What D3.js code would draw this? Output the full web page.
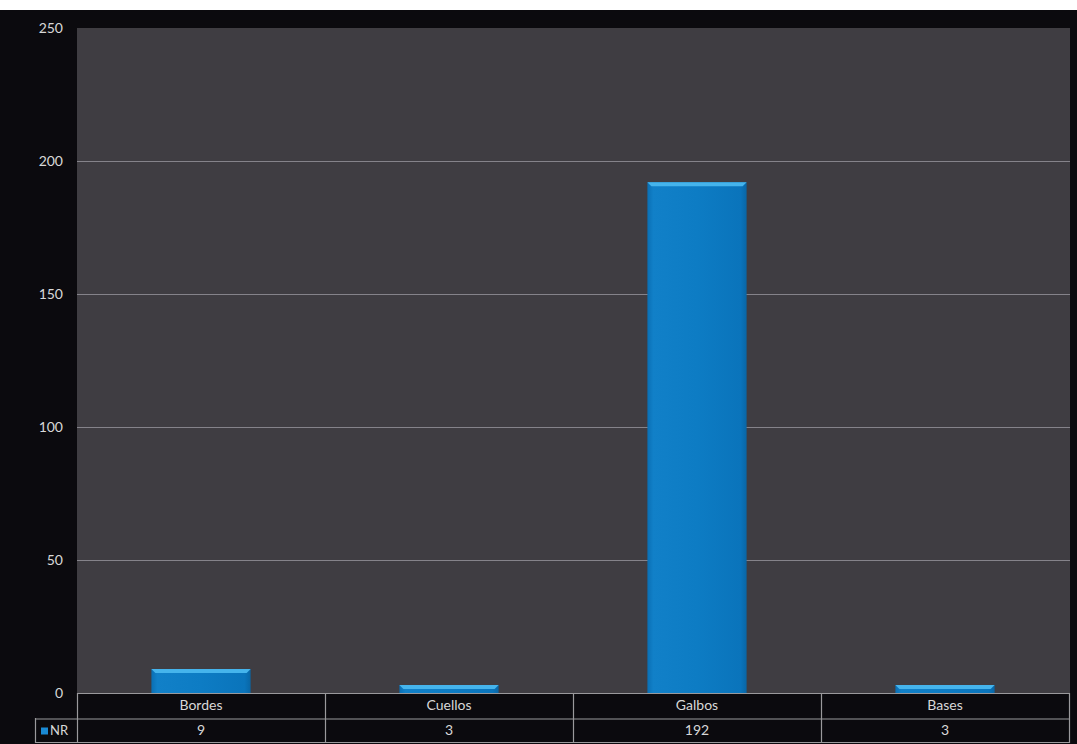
<!DOCTYPE html>
<html><head><meta charset="utf-8">
<script src="https://cdn.jsdelivr.net/npm/d3@7"></script>
<style>html,body{margin:0;padding:0;background:#fff;}svg{display:block;}</style>
</head><body>
<script>
const categories = ["Bordes", "Cuellos", "Galbos", "Bases"];
const seriesName = "NR";
const values = [9, 3, 192, 3];
const yTicks = [0, 50, 100, 150, 200, 250];

const W = 1077, H = 744;
const FONT = "Lato, 'Open Sans', sans-serif";
const svg = d3.select("body").append("svg").attr("width", W).attr("height", H);
const defs = svg.append("defs");
const g1 = defs.append("linearGradient").attr("id", "barGrad").attr("x1", 0).attr("x2", 1).attr("y1", 0).attr("y2", 0);
g1.append("stop").attr("offset", "0%").attr("stop-color", "#0a6fb4");
g1.append("stop").attr("offset", "6%").attr("stop-color", "#1180c8");
g1.append("stop").attr("offset", "50%").attr("stop-color", "#0d7cc4");
g1.append("stop").attr("offset", "94%").attr("stop-color", "#0a74bb");
g1.append("stop").attr("offset", "100%").attr("stop-color", "#0966a5");

svg.append("rect").attr("x", 0).attr("y", 10).attr("width", W).attr("height", H - 10).attr("fill", "#0b0a0e");

const plot = {left: 77, right: 1070, top: 28, bottom: 693};
svg.append("rect").attr("x", plot.left).attr("y", plot.top)
  .attr("width", plot.right - plot.left).attr("height", plot.bottom - plot.top)
  .attr("fill", "#3f3d42");

const x = d3.scaleBand().domain(categories).range([plot.left, 1069]).paddingInner(0.6).paddingOuter(0.3);
const xCell = d3.scaleBand().domain(categories).range([plot.left, 1069]).padding(0);
const y = d3.scaleLinear().domain([0, 250]).range([plot.bottom, plot.top]);

// gridlines
svg.append("g").selectAll("line").data(yTicks.filter(t => t > 0 && t < 250)).join("line")
  .attr("x1", plot.left).attr("x2", plot.right)
  .attr("y1", d => Math.round(y(d)) + 0.5).attr("y2", d => Math.round(y(d)) + 0.5)
  .attr("stroke", "#85838a").attr("stroke-width", 1);

// y axis labels
const yAxis = d3.axisLeft(y).tickValues(yTicks).tickSize(0).tickPadding(0);
const ya = svg.append("g").attr("transform", `translate(63,0)`).call(yAxis);
ya.select(".domain").remove();
ya.selectAll("text").attr("fill", "#d8d8d8").attr("font-family", FONT).attr("font-size", 14);

// bars
const bars = svg.append("g").selectAll("g").data(values).join("g");
bars.append("rect")
  .attr("x", (d, i) => x(categories[i]))
  .attr("y", d => y(d))
  .attr("width", x.bandwidth())
  .attr("height", d => y(0) - y(d))
  .attr("fill", "url(#barGrad)");
bars.append("path")
  .attr("d", (d, i) => {
    const x0 = x(categories[i]), x1 = x0 + x.bandwidth(), t = y(d);
    const h = Math.min(4, y(0) - y(d));
    return `M${x0},${t}L${x1},${t}L${x1 - h},${t + h}L${x0 + h},${t + h}Z`;
  })
  .attr("fill", "#45b4ec");

// data table
const tableTop = 693, rowH = 25;
const lineColor = "#9a999c";
const tbl = svg.append("g");
tbl.selectAll("text.cat").data(categories).join("text").attr("class", "cat")
  .attr("x", d => xCell(d) + xCell.bandwidth() / 2).attr("y", tableTop + rowH / 2 + 1)
  .attr("text-anchor", "middle").attr("dominant-baseline", "middle")
  .attr("fill", "#d8d8d8").attr("font-family", FONT).attr("font-size", 14)
  .text(d => d);
tbl.selectAll("text.val").data(values).join("text").attr("class", "val")
  .attr("x", (d, i) => xCell(categories[i]) + xCell.bandwidth() / 2).attr("y", tableTop + rowH + rowH / 2 + 1)
  .attr("text-anchor", "middle").attr("dominant-baseline", "middle")
  .attr("fill", "#d8d8d8").attr("font-family", FONT).attr("font-size", 14)
  .text(d => d);
// legend cell
tbl.append("rect").attr("x", 41).attr("y", tableTop + rowH + rowH / 2 - 3).attr("width", 7).attr("height", 7).attr("fill", "#1a8ad4");
tbl.append("text").attr("x", 50).attr("y", tableTop + rowH + rowH / 2 + 1)
  .attr("dominant-baseline", "middle").attr("fill", "#d8d8d8")
  .attr("font-family", FONT).attr("font-size", 13).text(seriesName);

// lines
const hLines = [
  [plot.left, 1069, tableTop],
  [35, 1069, tableTop + rowH + 0.5],
  [35, 1069, tableTop + 2 * rowH - 1]
];
tbl.selectAll("line.h").data(hLines).join("line").attr("class", "h")
  .attr("x1", d => d[0]).attr("x2", d => d[1]).attr("y1", d => d[2] + 0.5).attr("y2", d => d[2] + 0.5)
  .attr("stroke", lineColor).attr("stroke-width", 1.2);
const vPositions = categories.map(c => xCell(c)).concat([1069]);
tbl.selectAll("line.v").data(vPositions).join("line").attr("class", "v")
  .attr("x1", d => d + 0.5).attr("x2", d => d + 0.5).attr("y1", tableTop).attr("y2", tableTop + 2 * rowH)
  .attr("stroke", lineColor).attr("stroke-width", 1.2);
tbl.append("line").attr("x1", 35.5).attr("x2", 35.5).attr("y1", tableTop + rowH).attr("y2", tableTop + 2 * rowH)
  .attr("stroke", lineColor).attr("stroke-width", 1.2);
</script>
</body></html>
